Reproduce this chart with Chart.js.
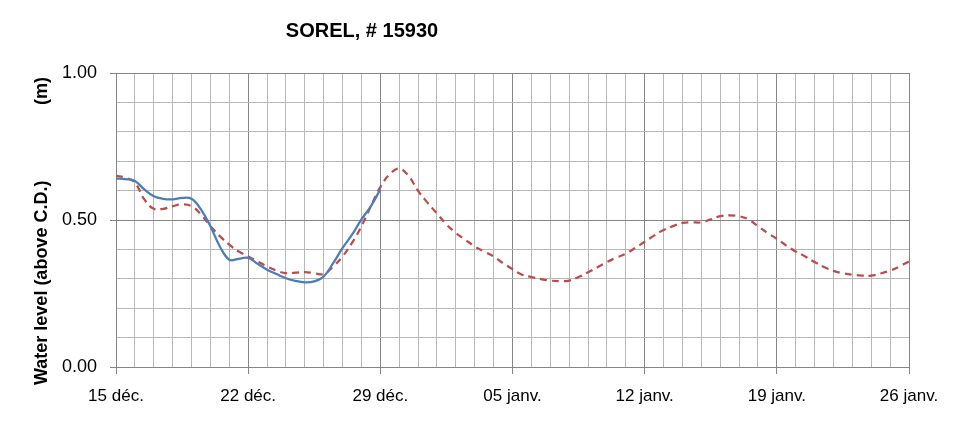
<!DOCTYPE html>
<html>
<head>
<meta charset="utf-8">
<script src="https://cdn.jsdelivr.net/npm/chart.js@4.4.0/dist/chart.umd.min.js"></script>
<style>
  html, body { margin: 0; padding: 0; background: #fff; }
  #wrap { width: 969px; height: 421px; }
</style>
</head>
<body>
<div id="wrap"><canvas id="chart" width="969" height="421"></canvas></div>
<script>
// day offsets from 15 déc., one reading every half day
var stepDays = 0.5;

// observed water level (m), 15 déc. -> 29 déc.
var observed = [
    0.641, 0.639, 0.633, 0.604, 0.581, 0.572, 0.570, 0.575, 0.572, 0.536,
    0.479, 0.410, 0.365, 0.368, 0.371, 0.351, 0.331, 0.316, 0.302, 0.293,
    0.288, 0.291, 0.308, 0.353, 0.405, 0.450, 0.502, 0.547, 0.604
];

// predicted water level (m), 15 déc. -> 26 janv.
var predicted = [
    0.650, 0.644, 0.627, 0.570, 0.538, 0.538, 0.547, 0.553, 0.547, 0.519,
    0.479, 0.445, 0.416, 0.393, 0.376, 0.359, 0.342, 0.328, 0.319, 0.321,
    0.323, 0.319, 0.316, 0.342, 0.376, 0.422, 0.479, 0.547, 0.612, 0.656,
    0.675, 0.650, 0.599, 0.559, 0.522, 0.485, 0.456, 0.433, 0.410, 0.393,
    0.376, 0.353, 0.333, 0.314, 0.306, 0.299, 0.294, 0.292, 0.294, 0.306,
    0.322, 0.339, 0.357, 0.372, 0.385, 0.405, 0.426, 0.447, 0.466, 0.479,
    0.490, 0.492, 0.492, 0.502, 0.513, 0.516, 0.513, 0.502, 0.479, 0.456,
    0.436, 0.413, 0.393, 0.376, 0.357, 0.340, 0.327, 0.319, 0.314, 0.311,
    0.311, 0.318, 0.328, 0.342, 0.359
];

var xTickLabels = ['15 déc.', '22 déc.', '29 déc.', '05 janv.', '12 janv.', '19 janv.', '26 janv.'];
var yTickLabels = { '0': '0.00', '0.5': '0.50', '1': '1.00' };

function toPoints(arr) {
    return arr.map(function(v, i) { return { x: i * stepDays, y: v }; });
}

var fontFam = '"Liberation Sans", Arial, sans-serif';

var textPlugin = {
    id: 'texts',
    afterDraw: function(chart) {
        var ctx = chart.ctx;
        ctx.save();
        ctx.fillStyle = '#000';
        ctx.font = 'bold 20px ' + fontFam;
        ctx.textAlign = 'center';
        ctx.textBaseline = 'middle';
        ctx.fillText('SOREL, # 15930', 362, 31);

        // axis title, rotated
        ctx.translate(42, 0);
        ctx.rotate(-Math.PI / 2);
        ctx.font = 'bold 18px ' + fontFam;
        ctx.textAlign = 'left';
        ctx.fillText('Water level (above C.D.)', -385, 0);
        ctx.textAlign = 'right';
        ctx.fillText('(m)', -77, 0);
        ctx.restore();
    }
};

new Chart(document.getElementById('chart').getContext('2d'), {
    type: 'line',
    data: {
        datasets: [{
            label: 'Observed',
            data: toPoints(observed),
            borderColor: '#4a7ebb',
            borderWidth: 2.25,
            pointRadius: 0,
            tension: 0.4,
            fill: false
        }, {
            label: 'Predicted',
            data: toPoints(predicted),
            borderColor: '#be4b48',
            borderWidth: 2.25,
            borderDash: [7, 5],
            pointRadius: 0,
            tension: 0.4,
            fill: false
        }]
    },
    options: {
        responsive: false,
        animation: false,
        layout: { padding: { left: 0, top: 73, right: 60, bottom: 0 } },
        plugins: {
            legend: { display: false },
            title: { display: false },
            tooltip: { enabled: false }
        },
        scales: {
            x: {
                type: 'linear',
                min: 0,
                max: 42,
                afterFit: function(s) { s.height = 54; },
                afterBuildTicks: function(s) {
                    var t = [];
                    for (var d = 0; d <= 42; d++) t.push({ value: d });
                    s.ticks = t;
                },
                ticks: {
                    autoSkip: false,
                    maxRotation: 0,
                    padding: 12,
                    color: '#000',
                    font: { family: fontFam, size: 17 },
                    callback: function(v) {
                        return v % 7 === 0 ? xTickLabels[v / 7] : '';
                    }
                },
                grid: {
                    color: function(c) { return c.tick && c.tick.value % 7 === 0 ? '#868686' : '#b8b8b8'; },
                    tickColor: function(c) { return c.tick && c.tick.value % 7 === 0 ? '#868686' : 'rgba(0,0,0,0)'; },
                    tickLength: 7,
                    lineWidth: 1
                },
                border: { color: '#868686' }
            },
            y: {
                min: 0,
                max: 1,
                afterFit: function(s) { s.width = 116; },
                afterBuildTicks: function(s) {
                    var t = [];
                    for (var i = 0; i <= 10; i++) t.push({ value: i / 10 });
                    s.ticks = t;
                },
                ticks: {
                    autoSkip: false,
                    padding: 13,
                    color: '#000',
                    font: { family: fontFam, size: 18 },
                    callback: function(v) {
                        var k = String(Math.round(v * 10) / 10);
                        return yTickLabels[k] || '';
                    }
                },
                grid: {
                    color: function(c) { var v = Math.round(c.tick.value * 10); return v % 5 === 0 ? '#868686' : '#b8b8b8'; },
                    tickColor: function(c) { var v = Math.round(c.tick.value * 10); return v % 5 === 0 ? '#868686' : 'rgba(0,0,0,0)'; },
                    tickLength: 6,
                    lineWidth: 1
                },
                border: { color: '#868686' }
            }
        }
    },
    plugins: [textPlugin]
});
</script>
</body>
</html>
